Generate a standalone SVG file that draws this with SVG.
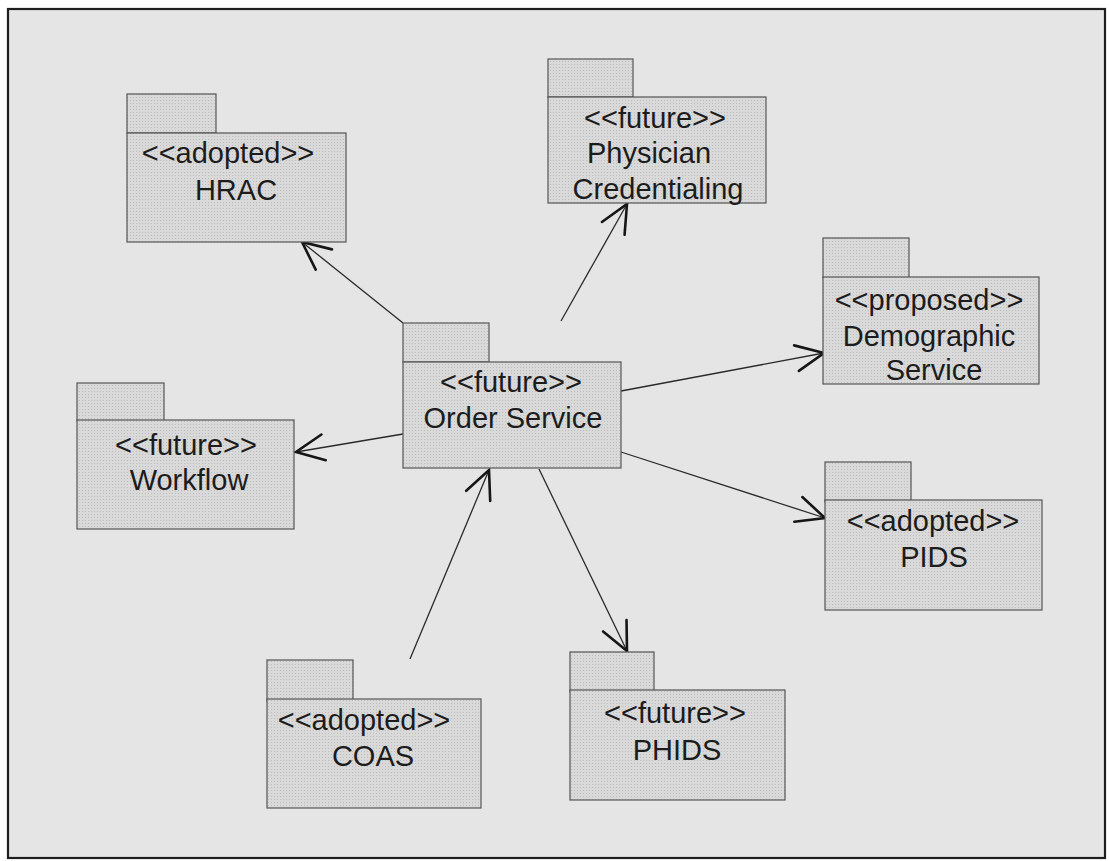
<svg xmlns="http://www.w3.org/2000/svg" width="1109" height="861" viewBox="0 0 1109 861">
  <style>
    .pkg { fill: url(#dots); stroke: #555; stroke-width: 1.2; }
    .lbl { font-family: "Liberation Sans", Arial, sans-serif; font-size: 29px; fill: #1c1c1c; text-anchor: middle; }
    .dep { fill: none; stroke: #2a2a2a; stroke-width: 1.3; marker-end: url(#open); }
  </style>
  <defs>
    <!-- halftone package fill -->
    <pattern id="dots" width="3" height="3" patternUnits="userSpaceOnUse">
      <rect width="3" height="3" fill="#d9d9d9"/>
      <rect x="1" y="1" width="1" height="1" fill="#bdbdbd"/>
    </pattern>
    <!-- open V arrowhead -->
    <marker id="open" markerUnits="userSpaceOnUse" markerWidth="40" markerHeight="40" viewBox="-34 -20 40 40" refX="0" refY="0" orient="auto" overflow="visible">
      <path d="M-28,-13 L0,0 L-28,13" fill="none" stroke="#161616" stroke-width="2.6" stroke-linecap="round" stroke-linejoin="miter"/>
    </marker>
  </defs>

  <rect width="1109" height="861" fill="#ffffff"/>
  <rect x="8" y="9" width="1097" height="849" fill="#e5e5e5" stroke="#1e1e1e" stroke-width="2.2"/>

  <g id="connectors">
    <line class="dep" x1="403" y1="323" x2="302" y2="242"/>
    <line class="dep" x1="561" y1="321" x2="627" y2="204"/>
    <line class="dep" x1="621" y1="391" x2="824" y2="353"/>
    <line class="dep" x1="403" y1="434" x2="296" y2="452"/>
    <line class="dep" x1="621" y1="452" x2="825" y2="518"/>
    <line class="dep" x1="539" y1="469" x2="627" y2="651"/>
    <line class="dep" x1="410" y1="659" x2="489" y2="470"/>
  </g>

  <g id="hrac">
    <rect class="pkg" x="127" y="94" width="89" height="39"/>
    <rect class="pkg" x="127" y="133" width="219" height="109"/>
    <text class="lbl" x="228" y="163">&lt;&lt;adopted&gt;&gt;</text>
    <text class="lbl" x="236" y="200">HRAC</text>
  </g>

  <g id="physician-credentialing">
    <rect class="pkg" x="548" y="59" width="85" height="38"/>
    <rect class="pkg" x="548" y="97" width="218" height="106"/>
    <text class="lbl" x="655" y="128">&lt;&lt;future&gt;&gt;</text>
    <text class="lbl" x="649" y="163">Physician</text>
    <text class="lbl" x="658" y="199">Credentialing</text>
  </g>

  <g id="order-service">
    <rect class="pkg" x="403" y="323" width="86" height="39"/>
    <rect class="pkg" x="403" y="362" width="218" height="106"/>
    <text class="lbl" x="511" y="392">&lt;&lt;future&gt;&gt;</text>
    <text class="lbl" x="513" y="428">Order Service</text>
  </g>

  <g id="demographic-service">
    <rect class="pkg" x="823" y="238" width="86" height="40"/>
    <rect class="pkg" x="823" y="277" width="216" height="107"/>
    <text class="lbl" x="929" y="310">&lt;&lt;proposed&gt;&gt;</text>
    <text class="lbl" x="929" y="346">Demographic</text>
    <text class="lbl" x="934" y="380">Service</text>
  </g>

  <g id="workflow">
    <rect class="pkg" x="77" y="383" width="87" height="38"/>
    <rect class="pkg" x="77" y="420" width="217" height="109"/>
    <text class="lbl" x="186" y="455">&lt;&lt;future&gt;&gt;</text>
    <text class="lbl" x="189" y="490">Workflow</text>
  </g>

  <g id="pids">
    <rect class="pkg" x="825" y="462" width="86" height="40"/>
    <rect class="pkg" x="825" y="500" width="217" height="110"/>
    <text class="lbl" x="933" y="531">&lt;&lt;adopted&gt;&gt;</text>
    <text class="lbl" x="934" y="567">PIDS</text>
  </g>

  <g id="coas">
    <rect class="pkg" x="267" y="660" width="86" height="41"/>
    <rect class="pkg" x="267" y="699" width="214" height="109"/>
    <text class="lbl" x="364" y="730">&lt;&lt;adopted&gt;&gt;</text>
    <text class="lbl" x="373" y="766">COAS</text>
  </g>

  <g id="phids">
    <rect class="pkg" x="570" y="652" width="84" height="40"/>
    <rect class="pkg" x="570" y="690" width="215" height="110"/>
    <text class="lbl" x="675" y="723">&lt;&lt;future&gt;&gt;</text>
    <text class="lbl" x="677" y="760">PHIDS</text>
  </g>
</svg>
